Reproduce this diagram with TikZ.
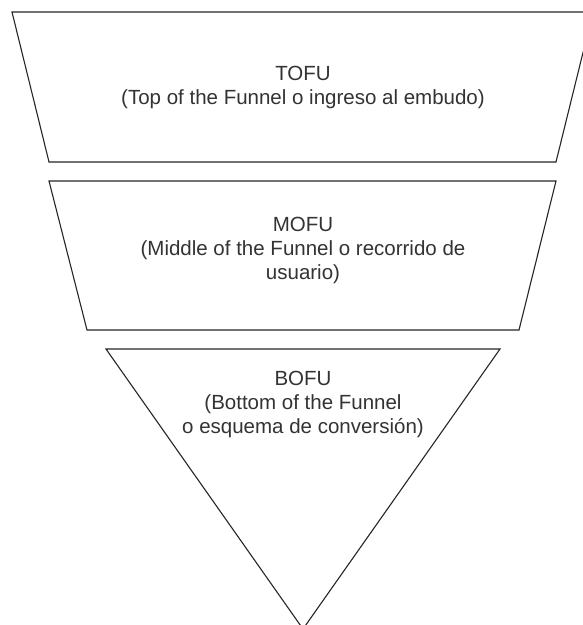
\documentclass[tikz,border=0pt]{standalone}
\usepackage{fontspec}
\setmainfont{Liberation Sans}
\begin{document}
\begin{tikzpicture}[x=1pt,y=-1pt,
  shapeline/.style={draw=black!85, line width=1.1pt, line join=miter},
  lbl/.style={align=center, text=black!80, inner sep=0pt, font=\fontsize{20.5}{24}\selectfont}]
\useasboundingbox[fill=white] (0,0) rectangle (583,625);
\draw[shapeline] (12,12) -- (593,12) -- (556,162) -- (49,162) -- cycle;
\draw[shapeline] (49,181) -- (556,181) -- (519,330) -- (87,330) -- cycle;
\draw[shapeline] (106,349) -- (500,349) -- (303,629) -- cycle;
\node[lbl] (tofu) at (303,87) {TOFU\\(Top of the Funnel o ingreso al embudo)};
\node[lbl] (mofu) at (303,250) {MOFU\\(Middle of the Funnel o recorrido de\\usuario)};
\node[lbl] (bofu) at (303,404) {BOFU\\(Bottom of the Funnel\\o esquema de conversión)};
\end{tikzpicture}
\end{document}
